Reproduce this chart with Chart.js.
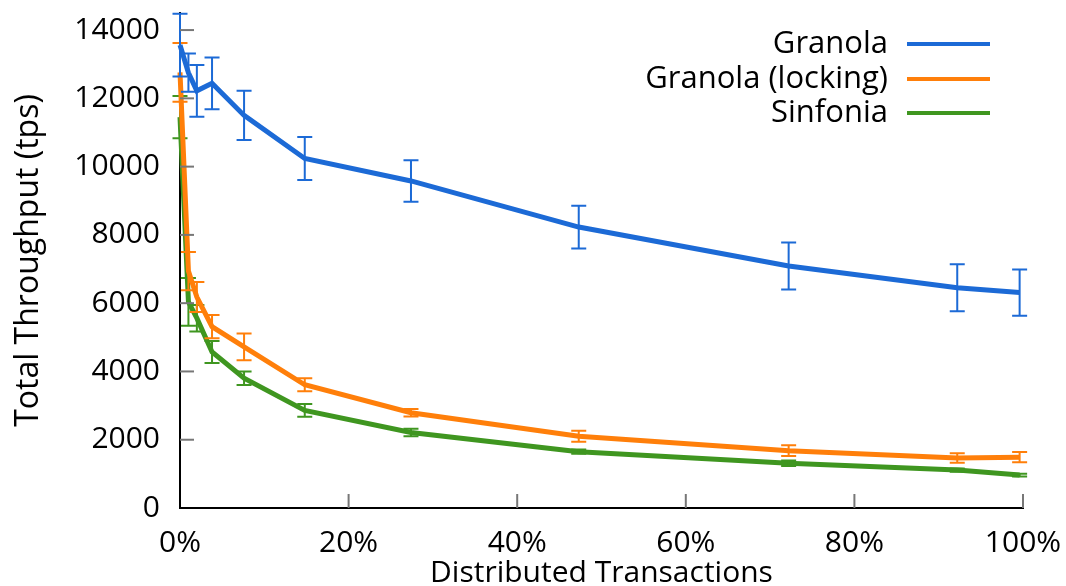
<!DOCTYPE html>
<html>
<head>
<meta charset="utf-8">
<script src="https://cdn.jsdelivr.net/npm/chart.js@4"></script>
<style>
  html, body { margin: 0; padding: 0; background: #fff; }
  #wrap { width: 1066px; height: 586px; }
</style>
</head>
<body>
<div id="wrap"><canvas id="throughputChart" width="1066" height="586"></canvas></div>
<script>
// x positions (% distributed transactions)
const xPercent = [0, 1, 2, 3.8, 7.6, 14.8, 27.4, 47.3, 72.2, 92.2, 99.6];

const granola = [13560, 12750, 12220, 12440, 11500, 10240, 9580, 8230, 7090, 6450, 6310];
const granolaErr = [920, 560, 760, 760, 720, 630, 610, 625, 690, 690, 680];

const granolaLocking = [12760, 6940, 6180, 5310, 4720, 3610, 2790, 2100, 1680, 1465, 1490];
const granolaLockingErr = [860, 560, 440, 340, 390, 190, 110, 160, 160, 140, 150];

const sinfonia = [11450, 6040, 5560, 4570, 3800, 2860, 2210, 1650, 1310, 1110, 966];
const sinfoniaErr = [620, 700, 390, 320, 200, 190, 110, 60, 80, 50, 40];

const yTicks = [0, 2000, 4000, 6000, 8000, 10000, 12000, 14000];
const xTicks = [0, 20, 40, 60, 80, 100];

const FONT = "'Open Sans', 'DejaVu Sans', sans-serif";
const BLUE = '#1c6ad6';
const ORANGE = '#ff7f0a';
const GREEN = '#3f9620';

function toPoints(vals) {
  return vals.map((v, i) => ({ x: xPercent[i], y: v }));
}

// error bars + inside tick marks + legend
const extrasPlugin = {
  id: 'extras',
  afterDatasetDraw(chart, args) {
    const ds = chart.data.datasets[args.index];
    const xs = chart.scales.x, ys = chart.scales.y;
    const ctx = chart.ctx;
    ctx.save();
    ctx.strokeStyle = ds.borderColor;
    ctx.lineWidth = 2;
    ds.data.forEach((p, i) => {
      const e = ds.errors[i];
      const px = xs.getPixelForValue(p.x);
      const top = ys.getPixelForValue(p.y + e);
      const bot = ys.getPixelForValue(p.y - e);
      ctx.beginPath();
      ctx.moveTo(px, top); ctx.lineTo(px, bot);
      ctx.moveTo(px - 7.5, top); ctx.lineTo(px + 7.5, top);
      ctx.moveTo(px - 7.5, bot); ctx.lineTo(px + 7.5, bot);
      ctx.stroke();
    });
    ctx.restore();
  },
  afterDraw(chart) {
    const ctx = chart.ctx;
    const xs = chart.scales.x, ys = chart.scales.y;
    const area = chart.chartArea;
    ctx.save();
    ctx.strokeStyle = '#777';
    ctx.lineWidth = 2;
    yTicks.forEach(v => {
      if (v === 0) return;
      const py = ys.getPixelForValue(v);
      ctx.beginPath(); ctx.moveTo(area.left, py); ctx.lineTo(area.left + 14, py); ctx.stroke();
    });
    xTicks.forEach(v => {
      if (v === 0) return;
      const px = xs.getPixelForValue(v);
      ctx.beginPath(); ctx.moveTo(px, area.bottom); ctx.lineTo(px, area.bottom - 14); ctx.stroke();
    });

    // legend, text on the left of the sample line
    ctx.font = '31px ' + FONT;
    ctx.textAlign = 'right';
    ctx.textBaseline = 'middle';
    const rows = [44, 79, 113];
    chart.data.datasets.forEach((ds, i) => {
      ctx.fillStyle = '#000';
      ctx.fillText(ds.label, 888, rows[i]);
      ctx.strokeStyle = ds.borderColor;
      ctx.lineWidth = 4;
      ctx.beginPath(); ctx.moveTo(907, rows[i]); ctx.lineTo(990, rows[i]); ctx.stroke();
    });
    ctx.restore();
  }
};

const ctx = document.getElementById('throughputChart').getContext('2d');
new Chart(ctx, {
  type: 'line',
  data: {
    datasets: [
      { label: 'Granola', data: toPoints(granola), errors: granolaErr, borderColor: BLUE },
      { label: 'Granola (locking)', data: toPoints(granolaLocking), errors: granolaLockingErr, borderColor: ORANGE },
      { label: 'Sinfonia', data: toPoints(sinfonia), errors: sinfoniaErr, borderColor: GREEN }
    ]
  },
  options: {
    responsive: false,
    animation: false,
    clip: false,
    layout: { padding: { top: 13, right: 43, left: 0, bottom: 0 } },
    elements: {
      line: { borderWidth: 5, tension: 0, fill: false },
      point: { radius: 0, hoverRadius: 0 }
    },
    plugins: {
      legend: { display: false },
      tooltip: { enabled: false }
    },
    scales: {
      x: {
        type: 'linear',
        min: 0,
        max: 100,
        afterBuildTicks: (axis) => { axis.ticks = xTicks.map(v => ({ value: v })); },
        afterFit: (scale) => {
          scale.height = 78;
          scale.paddingLeft = 0;
          scale.paddingRight = 0;
        },
        ticks: {
          color: '#000',
          font: { family: FONT, size: 30 },
          padding: 17,
          maxRotation: 0,
          callback: (v) => v + '%'
        },
        grid: { display: false, drawTicks: false },
        border: { display: true, color: '#000', width: 2 },
        title: {
          display: true,
          text: 'Distributed Transactions',
          color: '#000',
          font: { family: FONT, size: 30 },
          padding: { top: 0, bottom: -5 }
        }
      },
      y: {
        min: 0,
        max: 14500,
        afterBuildTicks: (axis) => { axis.ticks = yTicks.map(v => ({ value: v })); },
        afterFit: (scale) => {
          scale.width = 180;
          scale.paddingTop = 0;
          scale.paddingBottom = 0;
        },
        ticks: {
          color: '#000',
          font: { family: FONT, size: 30 },
          padding: 20,
          callback: (v) => String(v)
        },
        grid: { display: false, drawTicks: false },
        border: { display: true, color: '#000', width: 2 },
        title: {
          display: true,
          text: 'Total Throughput (tps)',
          color: '#000',
          font: { family: FONT, size: 32 },
          padding: { top: 10, bottom: 0 }
        }
      }
    }
  },
  plugins: [extrasPlugin]
});
</script>
</body>
</html>
